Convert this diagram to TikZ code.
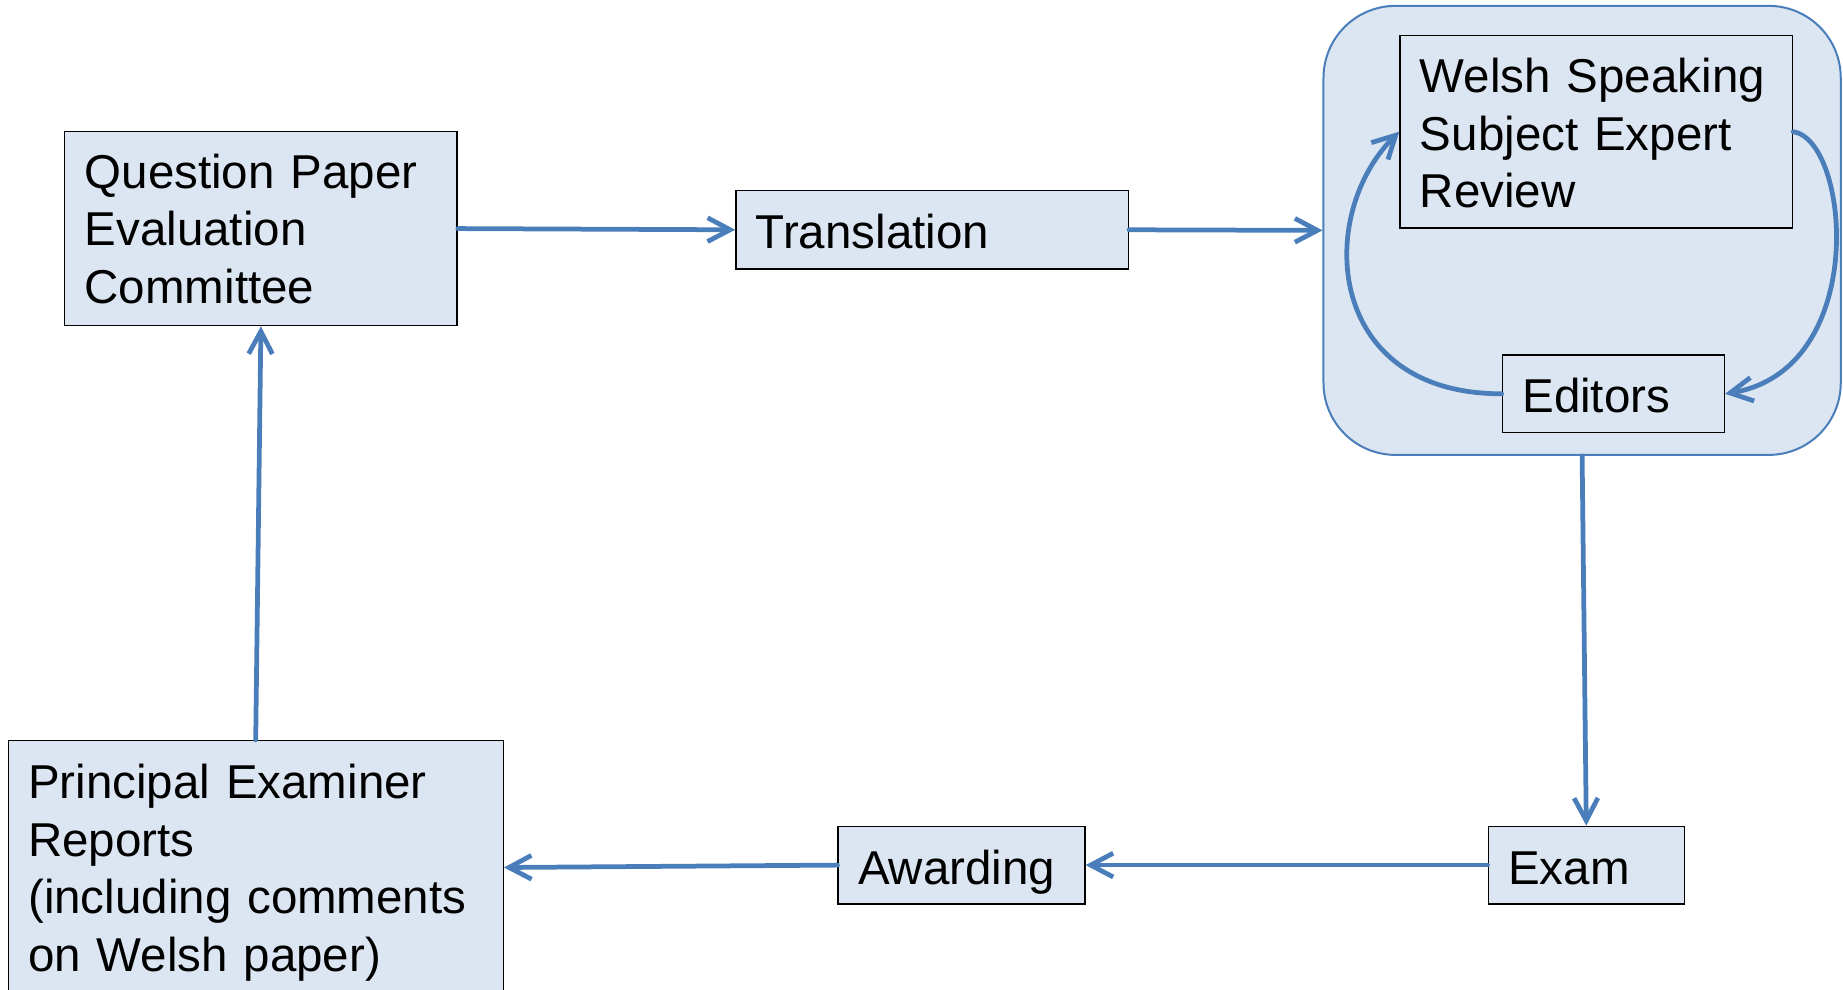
\documentclass[tikz,border=0pt]{standalone}
\usepackage{fontspec}
\setmainfont{Liberation Sans}
\usetikzlibrary{arrows.meta}
\definecolor{boxfill}{HTML}{DCE6F2}
\definecolor{arrowblue}{HTML}{4A7EBB}
\newcommand{\boxfont}{\fontsize{19pt}{23pt}\selectfont\hyphenpenalty=10000\relax}
\begin{document}
\begin{tikzpicture}[x=0.4pt,y=-0.4pt,
  box/.style={draw=black, line width=0.55pt, fill=boxfill, inner xsep=8pt, inner ysep=0pt,
    align=left, anchor=center, font=\boxfont},
  oneline/.style={box, text height=16pt, text depth=0.8pt},
  group/.style={draw=arrowblue, line width=0.8pt, fill=boxfill, rounded corners=28.8pt, inner sep=0pt},
  flow/.style={draw=arrowblue, line width=1.9pt, line cap=round,
    -{Straight Barb[length=9pt,width=9.5pt,line width=1.9pt]}}]
\useasboundingbox (0,0) rectangle (1843,990);
\clip (0,0) rectangle (1843,990);
% container
\node[group, minimum width=206.9pt, minimum height=179.6pt] (grp) at (1582.1,230.4) {};
% boxes
\node[box, text width=141pt, minimum height=77.6pt] (qpec) at (260.9,228.6) {Question Paper\\Evaluation\\Committee};
\node[oneline, text width=141pt, minimum height=31.5pt] (trans) at (932.1,229.8) {Translation};
\node[box, text width=141pt, minimum height=77.1pt] (ws) at (1596.2,131.7) {\rule{0pt}{15pt}Welsh Speaking\\Subject Expert\\Review};
\node[oneline, text width=72.8pt, minimum height=31pt] (ed) at (1613.3,393.8) {Editors};
\node[oneline, text width=62.5pt, minimum height=31pt] (exam) at (1586.3,865.1) {Exam};
\node[oneline, text width=82.7pt, minimum height=31pt] (award) at (961.5,865.1) {Awarding};
\node[box, text width=182pt, minimum height=101.6pt] (per) at (255.7,867.5) {\rule{0pt}{18pt}Principal Examiner\\Reports\\(including comments\\on Welsh paper)};
% connectors
\draw[flow] (qpec.east) -- (trans.west);
\draw[flow] (trans.east) -- (grp.west);
\draw[flow] (grp.south) -- (exam.north);
\draw[flow] (exam.west) -- (award.east);
\draw[flow] (award.west) -- (per.east);
\draw[flow] (per.north) -- (qpec.south);
\draw[flow] (ed.west) .. controls (1325,394) and (1315,215) .. (ws.west);
\draw[flow] (ws.east) .. controls (1850,140) and (1870,370) .. (ed.east);
\end{tikzpicture}
\end{document}
